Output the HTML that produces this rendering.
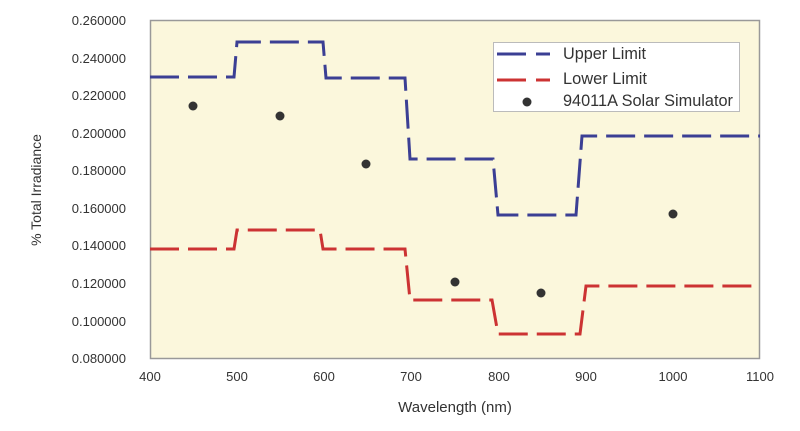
<!DOCTYPE html>
<html><head><style>
html,body{margin:0;padding:0;background:#fff;}
svg text{font-family:"Liberation Sans",sans-serif;fill:#333;}
</style></head><body>
<svg width="800" height="426" xmlns="http://www.w3.org/2000/svg">
<rect x="150.5" y="20.5" width="609" height="338" fill="#fbf7dc" stroke="#999" stroke-width="1.5"/>
<g font-size="13" text-anchor="end">
<text x="126" y="25">0.260000</text>
<text x="126" y="63">0.240000</text>
<text x="126" y="100">0.220000</text>
<text x="126" y="138">0.200000</text>
<text x="126" y="175">0.180000</text>
<text x="126" y="213">0.160000</text>
<text x="126" y="250">0.140000</text>
<text x="126" y="288">0.120000</text>
<text x="126" y="326">0.100000</text>
<text x="126" y="363">0.080000</text>
</g>
<g font-size="13" text-anchor="middle">
<text x="150" y="381">400</text><text x="237" y="381">500</text><text x="324" y="381">600</text><text x="411" y="381">700</text><text x="499" y="381">800</text><text x="586" y="381">900</text><text x="673" y="381">1000</text><text x="760" y="381">1100</text>
</g>
<text x="455" y="412" font-size="15" text-anchor="middle">Wavelength (nm)</text>
<text transform="translate(41,190) rotate(-90)" font-size="14" text-anchor="middle">% Total Irradiance</text>
<g fill="none" stroke-width="3" stroke-dasharray="29,9">
<polyline stroke="#3b3f94" points="150,77 234,77 237,42 323,42 326,78 405,78 410,159 493,159 498,215 576,215 582,136 760,136"/>
<polyline stroke="#cc3333" points="150,249 234,249 237,230 320,230 323,249 405,249 410,300 492,300 498,334 580,334 586,286 760,286"/>
</g>
<g fill="#333">
<circle cx="193" cy="106" r="4.5"/><circle cx="280" cy="116" r="4.5"/><circle cx="366" cy="164" r="4.5"/><circle cx="455" cy="282" r="4.5"/><circle cx="541" cy="293" r="4.5"/><circle cx="673" cy="214" r="4.5"/>
</g>
<rect x="493.5" y="42.5" width="246" height="69" fill="#fff" stroke="#bbb"/>
<line x1="497" y1="54" x2="550" y2="54" stroke="#3b3f94" stroke-width="3" stroke-dasharray="29,10"/>
<line x1="497" y1="80" x2="550" y2="80" stroke="#cc3333" stroke-width="3" stroke-dasharray="29,10"/>
<circle cx="527" cy="102" r="4.5" fill="#333"/>
<g font-size="17"><text x="563" y="59" textLength="83" lengthAdjust="spacingAndGlyphs">Upper Limit</text><text x="563" y="84" textLength="84" lengthAdjust="spacingAndGlyphs">Lower Limit</text><text x="563" y="106" textLength="170" lengthAdjust="spacingAndGlyphs">94011A Solar Simulator</text></g>
</svg>
</body></html>
